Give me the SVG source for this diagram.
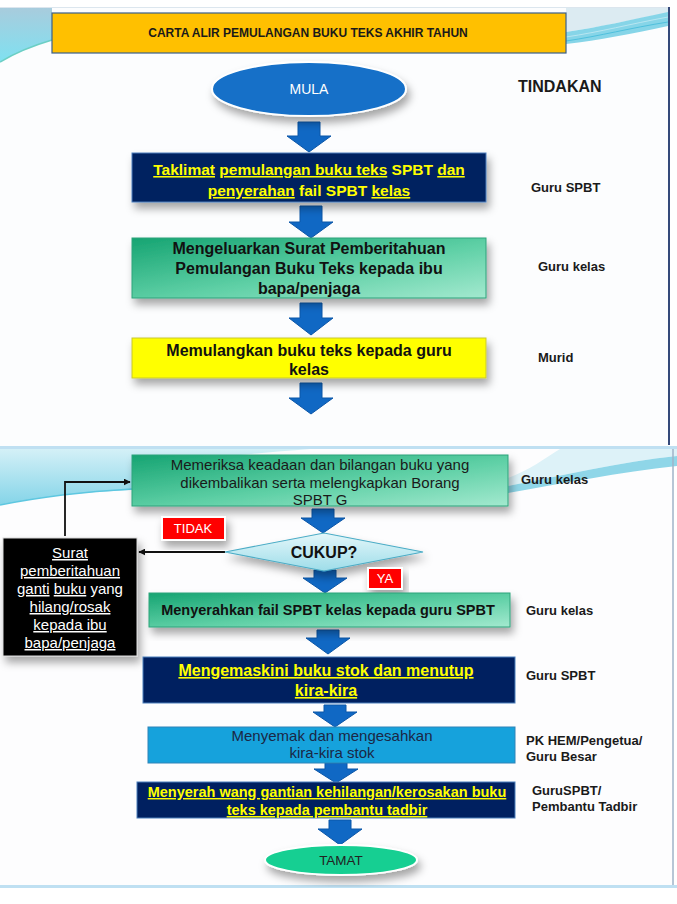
<svg xmlns="http://www.w3.org/2000/svg" width="677" height="904" viewBox="0 0 677 904">
<defs>
<style>
text{font-family:"Liberation Sans",Arial,sans-serif;}
.c{text-anchor:middle;}
.b{font-weight:bold;}
.side{font-weight:bold;font-size:13px;fill:#1a1a1a;}
.yl{fill:#FFFF00;}
.u{text-decoration:underline;}
.arr{fill:#1068C4;stroke:#0B56A8;stroke-width:1;}
.navy{fill:#002060;stroke:#4A7EBB;stroke-width:1;}
.green{fill:url(#gg);stroke:#2FA37A;stroke-width:1;}
.con{fill:none;stroke:#111;stroke-width:1.8;}
.tag{fill:#FF0000;stroke:#fff;stroke-width:2;}
</style>
<linearGradient id="gg" x1="0" y1="0" x2="1" y2="1">
<stop offset="0" stop-color="#16A472"/>
<stop offset="0.55" stop-color="#5FD0A6"/>
<stop offset="1" stop-color="#A3E9CF"/>
</linearGradient>
<linearGradient id="dg" x1="0" y1="0" x2="0" y2="1">
<stop offset="0" stop-color="#E4F7FA"/>
<stop offset="1" stop-color="#9EDDE9"/>
</linearGradient>
<linearGradient id="sw" x1="0" y1="0" x2="0" y2="1">
<stop offset="0" stop-color="#A8CCDD"/>
<stop offset="1" stop-color="#7FE1F1"/>
</linearGradient>
<linearGradient id="sw2" x1="0" y1="0" x2="0" y2="1">
<stop offset="0" stop-color="#D4F0F7"/>
<stop offset="1" stop-color="#84D4E8"/>
</linearGradient>
<filter id="sh" x="-15%" y="-20%" width="135%" height="160%">
<feDropShadow dx="3" dy="6" stdDeviation="4" flood-color="#000" flood-opacity="0.35"/>
</filter>
<marker id="ah" viewBox="0 0 10 10" refX="9" refY="5" markerWidth="7" markerHeight="7" orient="auto" markerUnits="userSpaceOnUse">
<path d="M0,0 L10,5 L0,10 Z" fill="#111"/>
</marker>
</defs>

<!-- backgrounds -->
<rect x="0" y="0" width="677" height="904" fill="#ffffff"/>
<rect x="0" y="7" width="668" height="439" fill="#FCFDFE"/>
<line x1="0" y1="7.5" x2="668" y2="7.5" stroke="#DCE6EE" stroke-width="1"/>
<path d="M0,8 L52,8 L52,40 C35,45 15,53 0,62 Z" fill="url(#sw)"/>
<path d="M0,62 C15,53 35,45 52,40" fill="none" stroke="#6CCFC4" stroke-width="1.5"/>
<path d="M566,8 L668,8 L668,13 C630,20 600,27 566,32 Z" fill="#DCEBF2"/>
<path d="M566,32 C600,27 630,20 668,12 L668,26 C630,34 600,40 566,44 Z" fill="#86D5E8"/>
<path d="M566,37 C600,32 630,24 668,17" fill="none" stroke="#B8E6F1" stroke-width="1"/>
<path d="M566,41 C600,36 630,28 668,22" fill="none" stroke="#4FC0DD" stroke-width="1"/>
<line x1="669" y1="7" x2="669" y2="445" stroke="#34497A" stroke-width="2"/>
<rect x="0" y="446" width="677" height="3" fill="#BFE0F2"/>
<rect x="0" y="449" width="674" height="437" fill="#FDFDFE"/>
<path d="M0,449 L310,449 C230,455 170,462 132,468 L132,490 C80,492 40,497 0,505 Z" fill="url(#sw2)"/>
<path d="M0,505 C40,497 80,492 132,489" fill="none" stroke="#5EC7E0" stroke-width="1.5"/>
<path d="M560,449 L677,449 L677,456 C620,462 560,476 508,486 L508,478 C530,470 545,458 560,449 Z" fill="#DDF2F8"/>
<path d="M508,486 C560,476 620,462 677,456 L677,466 C620,472 560,484 508,493 Z" fill="#8FD6E8"/>
<line x1="673" y1="449" x2="673" y2="886" stroke="#9FB3C8" stroke-width="1.5"/>
<rect x="0" y="885" width="677" height="3" fill="#BFE0F2"/>

<!-- connectors -->
<g id="connectors">
<path class="arr" d="M298,122 H320 V136 H331 L309,152 L287,136 H298 Z"/>
<path class="arr" d="M300,206 H322 V222 H333 L311,238 L289,222 H300 Z"/>
<path class="arr" d="M300,303 H322 V318 H333 L311,335 L289,318 H300 Z"/>
<path class="arr" d="M300,383 H322 V398 H333 L311,414 L289,398 H300 Z"/>
<path class="arr" d="M312,509 H334 V518 H345 L323,533 L301,518 H312 Z"/>
<path class="arr" d="M314,570 H336 V578 H347 L325,593 L303,578 H314 Z"/>
<path class="arr" d="M317,630 H339 V638 H350 L328,654 L306,638 H317 Z"/>
<path class="arr" d="M324,705 H346 V712 H357 L335,727 L313,712 H324 Z"/>
<path class="arr" d="M325,763 H347 V769 H358 L336,783 L314,769 H325 Z"/>
<path class="arr" d="M329,820 H351 V829 H362 L340,845 L318,829 H329 Z"/>
<path class="con" d="M225,552 H139" marker-end="url(#ah)"/>
<path class="con" d="M65,536 V482 H130" marker-end="url(#ah)"/>
</g>

<g id="title">
<rect x="52" y="13" width="514" height="40" fill="#FFC000" stroke="#3A5F8A" stroke-width="1.2"/>
<text x="308" y="37" class="c b" font-size="12" fill="#1a1a1a">CARTA ALIR PEMULANGAN BUKU TEKS AKHIR TAHUN</text>
</g>

<g id="mula">
<ellipse cx="309" cy="89" rx="97" ry="27" fill="#1270C8" stroke="#ffffff" stroke-width="2" filter="url(#sh)"/>
<text x="309" y="94" class="c" font-size="14" fill="#ffffff">MULA</text>
</g>

<text x="518" y="92" class="b" font-size="16" fill="#1a1a1a">TINDAKAN</text>

<g id="n1">
<rect x="132" y="153" width="354" height="49" class="navy" filter="url(#sh)"/>
<text x="309" y="175" class="c b yl" font-size="15.5"><tspan class="u">Taklimat</tspan> <tspan class="u">pemulangan buku teks</tspan> SPBT <tspan class="u">dan</tspan></text>
<text x="309" y="196" class="c b yl" font-size="15.5"><tspan class="u">penyerahan</tspan> fail SPBT <tspan class="u">kelas</tspan></text>
</g>
<text x="531" y="192" class="side">Guru SPBT</text>

<g id="n2">
<rect x="132" y="238" width="354" height="60" class="green" filter="url(#sh)"/>
<text x="309" y="254" class="c b" font-size="16" fill="#111">Mengeluarkan Surat Pemberitahuan</text>
<text x="309" y="274" class="c b" font-size="16" fill="#111">Pemulangan Buku Teks kepada ibu</text>
<text x="309" y="294" class="c b" font-size="16" fill="#111">bapa/penjaga</text>
</g>
<text x="538" y="271" class="side">Guru kelas</text>

<g id="n3">
<rect x="132" y="338" width="354" height="40" fill="#FFFF00" stroke="#C8C830" stroke-width="1" filter="url(#sh)"/>
<text x="309" y="356" class="c b" font-size="16" fill="#111">Memulangkan buku teks kepada guru</text>
<text x="309" y="375" class="c b" font-size="16" fill="#111">kelas</text>
</g>
<text x="538" y="362" class="side">Murid</text>

<g id="n4">
<rect x="132" y="455" width="376" height="51" class="green" filter="url(#sh)"/>
<text x="320" y="470" class="c" font-size="15" fill="#1a1a1a">Memeriksa keadaan dan bilangan buku yang</text>
<text x="320" y="488" class="c" font-size="15" fill="#1a1a1a">dikembalikan serta melengkapkan Borang</text>
<text x="320" y="505" class="c" font-size="15" fill="#1a1a1a">SPBT G</text>
</g>
<text x="521" y="484" class="side">Guru kelas</text>

<g id="tidak">
<rect x="162" y="517" width="63" height="23" class="tag" filter="url(#sh)"/>
<text x="193" y="533" class="c" font-size="13" fill="#ffffff">TIDAK</text>
</g>

<g id="cukup">
<polygon points="225,552 324,533 423,552 324,571" fill="url(#dg)" stroke="#4BACC6" stroke-width="1.2" filter="url(#sh)"/>
<text x="324" y="558" class="c b" font-size="16" fill="#111">CUKUP?</text>
</g>

<g id="ya">
<rect x="368" y="568" width="34" height="21" class="tag" filter="url(#sh)"/>
<text x="385" y="583" class="c" font-size="13" fill="#ffffff">YA</text>
</g>

<g id="surat">
<rect x="3" y="538" width="134" height="118" fill="#000" stroke="#d8d8d8" stroke-width="1" filter="url(#sh)"/>
<text x="70" y="558" class="c u" font-size="15" fill="#ffffff">Surat</text>
<text x="70" y="576" class="c u" font-size="15" fill="#ffffff">pemberitahuan</text>
<text x="70" y="594" class="c" font-size="15" fill="#ffffff"><tspan class="u">ganti</tspan> <tspan class="u">buku</tspan> yang</text>
<text x="70" y="612" class="c u" font-size="15" fill="#ffffff">hilang/rosak</text>
<text x="70" y="630" class="c u" font-size="15" fill="#ffffff">kepada ibu</text>
<text x="70" y="648" class="c u" font-size="15" fill="#ffffff">bapa/penjaga</text>
</g>

<g id="n5">
<rect x="149" y="593" width="361" height="34" class="green" filter="url(#sh)"/>
<text x="328" y="615" class="c b" font-size="14.5" fill="#111">Menyerahkan fail SPBT kelas kepada guru SPBT</text>
</g>
<text x="526" y="615" class="side">Guru kelas</text>

<g id="n6">
<rect x="143" y="657" width="372" height="46" class="navy"/>
<text x="326" y="676" class="c b yl u" font-size="16">Mengemaskini buku stok dan menutup</text>
<text x="326" y="696" class="c b yl u" font-size="16">kira-kira</text>
</g>
<text x="526" y="680" class="side">Guru SPBT</text>

<g id="n7">
<rect x="148" y="727" width="367" height="36" fill="#16A2DC" stroke="#2E84B8" stroke-width="1"/>
<text x="332" y="741" class="c" font-size="15" fill="#1B2745">Menyemak dan mengesahkan</text>
<text x="332" y="758" class="c" font-size="15" fill="#1B2745">kira-kira stok</text>
</g>
<text x="526" y="745" class="side">PK HEM/Pengetua/</text>
<text x="526" y="761" class="side">Guru Besar</text>

<g id="n8">
<rect x="137" y="782" width="378" height="36" class="navy"/>
<text x="327" y="797" class="c b yl u" font-size="14.5">Menyerah wang gantian kehilangan/kerosakan buku</text>
<text x="327" y="815" class="c b yl u" font-size="14.5">teks kepada pembantu tadbir</text>
</g>
<text x="532" y="795" class="side" font-size="12.5">GuruSPBT/</text>
<text x="532" y="811" class="side" font-size="12.5">Pembantu Tadbir</text>

<g id="tamat">
<ellipse cx="341" cy="860" rx="76" ry="15" fill="#17CF92" stroke="#ffffff" stroke-width="2" filter="url(#sh)"/>
<text x="341" y="865" class="c" font-size="13.5" fill="#222">TAMAT</text>
</g>
</svg>
